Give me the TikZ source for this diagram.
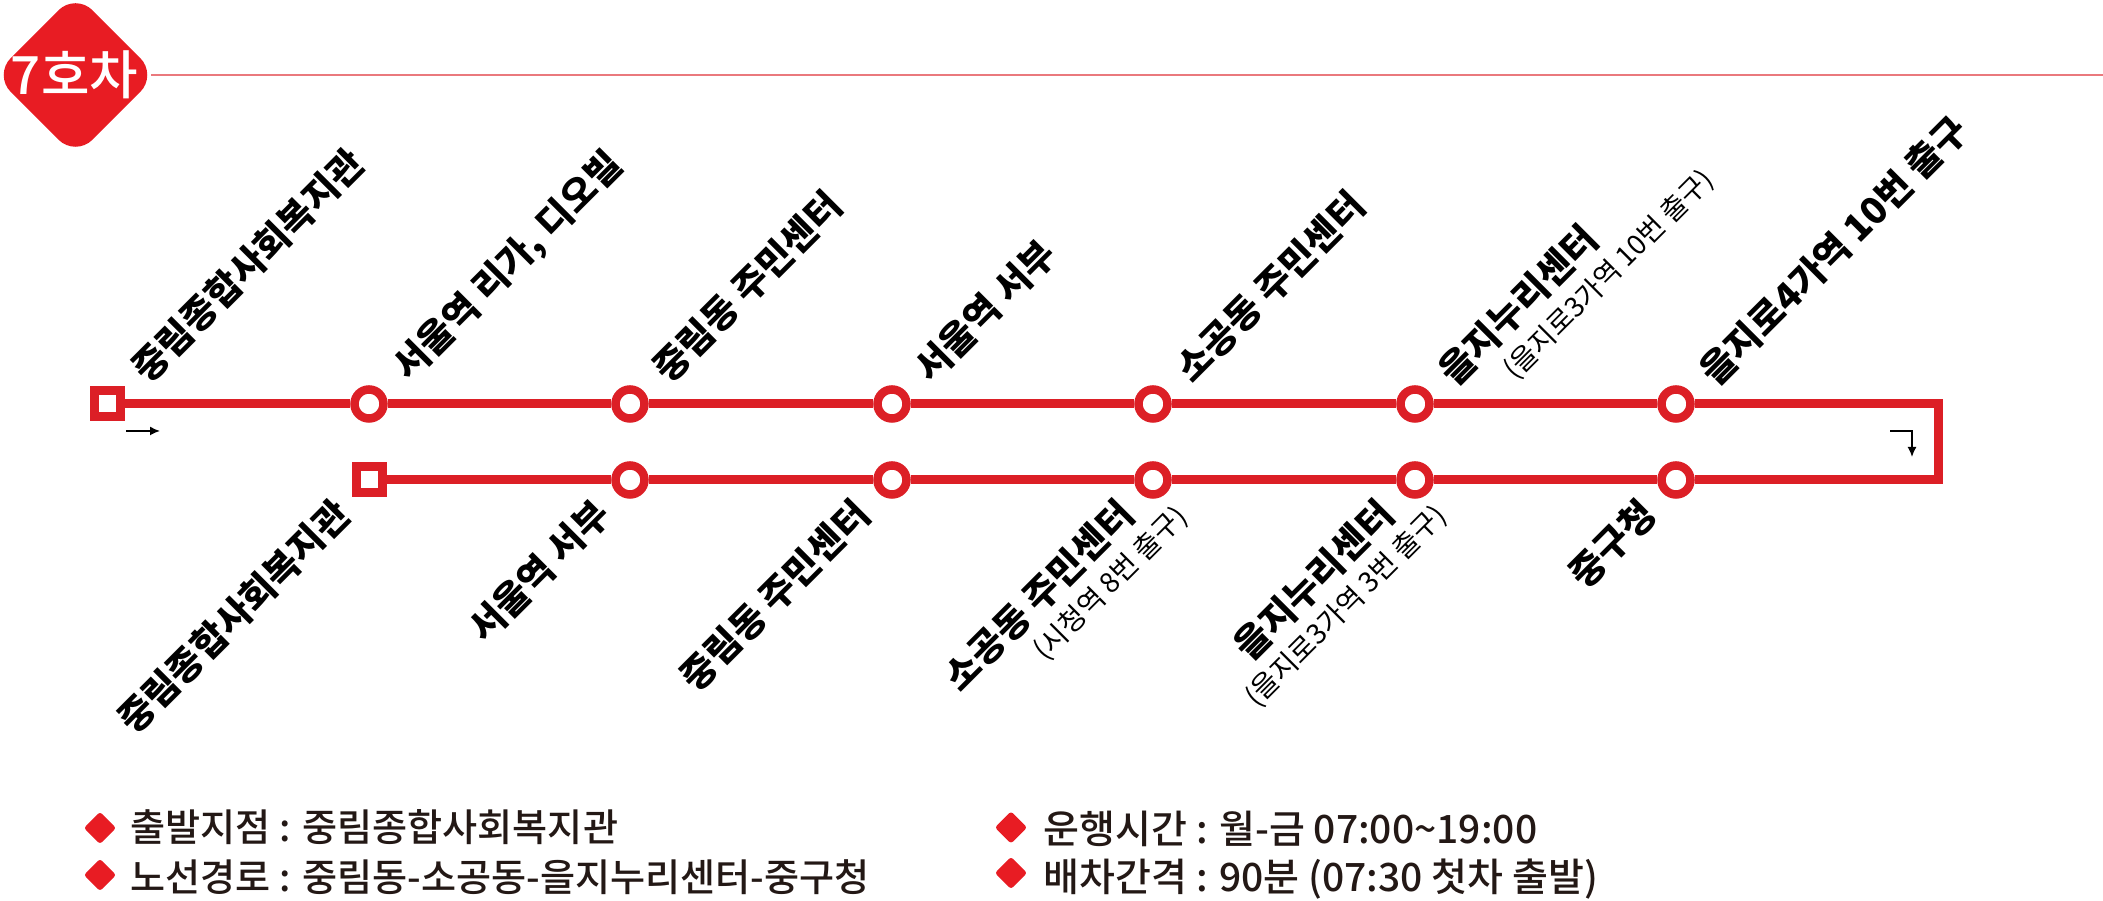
\documentclass[tikz,border=0pt]{standalone}
\usepackage{fontspec}
\setmainfont{Noto Sans CJK KR}
\newfontfamily\krmedium{Noto Sans CJK KR Medium}
\usetikzlibrary{shapes.geometric,arrows.meta}
\definecolor{busred}{HTML}{DC1F26}
\definecolor{badgered}{HTML}{E81C23}
\definecolor{legendink}{HTML}{231815}
\tikzset{
    route/.style={draw=busred,line width=0.09cm},
    stop/.style={circle,draw=busred,fill=white,line width=0.085cm,minimum size=0.29cm,inner sep=0pt},
    terminal/.style={rectangle,draw=busred,fill=white,line width=0.09cm,minimum size=0.26cm,inner sep=0pt},
    uplabel/.style={anchor=west,rotate=45,inner sep=0pt,font=\fontsize{10.6pt}{12pt}\selectfont\bfseries},
    downlabel/.style={anchor=east,rotate=45,inner sep=0pt,font=\fontsize{10.6pt}{12pt}\selectfont\bfseries},
    upnote/.style={anchor=west,rotate=45,inner sep=0pt,font=\fontsize{7.9pt}{9pt}\selectfont},
    downnote/.style={anchor=east,rotate=45,inner sep=0pt,font=\fontsize{8pt}{9pt}\selectfont},
    legendmark/.style={diamond,fill=badgered,rounded corners=0.03cm,minimum size=0.33cm,inner sep=0pt},
    legendtext/.style={anchor=west,inner sep=0pt,text=legendink,font=\fontsize{10.85pt}{12pt}\krmedium},
    legendwide/.style={legendtext,font=\fontsize{11.1pt}{13pt}\krmedium},
}
\begin{document}
\begin{tikzpicture}
    \useasboundingbox (0,0) rectangle (21.03,9.01);

    % The badge
    \node[diamond,fill=badgered,rounded corners=0.24cm,minimum size=1.64cm,inner sep=0pt] (badge) at (0.755,8.26) {};
    \node[text=white,inner sep=0pt,font=\fontsize{15pt}{17pt}\krmedium] (badgetext) at (0.745,8.26) {7호차};
    \coordinate (railend) at (21.03,8.26);
    \draw[draw=busred!60,line width=0.35pt,shorten <=-0.07cm] (badge) -- (railend);

    % The stops
    \node[terminal] (t0) at (1.07,4.97) {};
    \node[stop] (t1) at (3.69,4.97) {};
    \node[stop] (t2) at (6.30,4.97) {};
    \node[stop] (t3) at (8.92,4.97) {};
    \node[stop] (t4) at (11.53,4.97) {};
    \node[stop] (t5) at (14.15,4.97) {};
    \node[stop] (t6) at (16.76,4.97) {};
    \coordinate (turntop) at (19.38,4.97);
    \coordinate (turnbot) at (19.38,4.21);
    \node[stop] (b5) at (16.76,4.21) {};
    \node[stop] (b4) at (14.15,4.21) {};
    \node[stop] (b3) at (11.53,4.21) {};
    \node[stop] (b2) at (8.92,4.21) {};
    \node[stop] (b1) at (6.30,4.21) {};
    \node[terminal] (b0) at (3.69,4.21) {};

    % The route
    \draw[route] (t0) -- (t1);
    \draw[route] (t1) -- (t2);
    \draw[route] (t2) -- (t3);
    \draw[route] (t3) -- (t4);
    \draw[route] (t4) -- (t5);
    \draw[route] (t5) -- (t6);
    \draw[route,line join=miter] (t6) -- (turntop) -- (turnbot) -- (b5);
    \draw[route] (b5) -- (b4);
    \draw[route] (b4) -- (b3);
    \draw[route] (b3) -- (b2);
    \draw[route] (b2) -- (b1);
    \draw[route] (b1) -- (b0);

    % The direction arrows
    \coordinate (goa) at (1.26,4.70);
    \coordinate (gob) at (1.60,4.70);
    \draw[-{Latex[length=0.1cm,width=0.09cm]},line width=0.45pt] (goa) -- (gob);
    \coordinate (backa) at (18.90,4.70);
    \coordinate (backb) at (19.12,4.70);
    \coordinate (backc) at (19.12,4.44);
    \draw[-{Latex[length=0.1cm,width=0.09cm]},line width=0.45pt] (backa) -- (backb) -- (backc);

    % The upper labels
    \node[uplabel] (u0) at (1.38,5.26) {중림종합사회복지관};
    \node[uplabel] (u1) at (4.01,5.26) {서울역 리가, 디오빌};
    \node[uplabel] (u2) at (6.59,5.26) {중림동 주민센터};
    \node[uplabel] (u3) at (9.21,5.26) {서울역 서부};
    \node[uplabel] (u4) at (11.82,5.26) {소공동 주민센터};
    \node[uplabel] (u5) at (14.45,5.23) {을지누리센터};
    \node[upnote] (n5) at (15.09,5.26) {(을지로3가역 10번 출구)};
    \node[uplabel] (u6) at (17.06,5.23) {을지로4가역 10번 출구};

    % The lower labels
    \node[downlabel] (d0) at (3.43,3.94) {중림종합사회복지관};
    \node[downlabel] (d1) at (6.03,3.94) {서울역 서부};
    \node[downlabel] (d2) at (8.63,3.94) {중림동 주민센터};
    \node[downlabel] (d3) at (11.27,3.94) {소공동 주민센터};
    \node[downnote] (m3) at (11.83,3.89) {(시청역 8번 출구)};
    \node[downlabel] (d4) at (13.87,3.94) {을지누리센터};
    \node[downnote] (m4) at (14.42,3.90) {(을지로3가역 3번 출구)};
    \node[downlabel] (d5) at (16.49,3.94) {중구청};

    % The legend
    \node[legendmark] (k1) at (1.00,0.73) {};
    \node[legendtext] (l1) at (1.30,0.735) {출발지점 : 중림종합사회복지관};
    \node[legendmark] (k2) at (1.00,0.26) {};
    \node[legendtext] (l2) at (1.30,0.235) {노선경로 : 중림동-소공동-을지누리센터-중구청};
    \node[legendmark] (k3) at (10.11,0.735) {};
    \node[legendwide] (l3) at (10.43,0.72) {운행시간 : 월-금 07:00\textasciitilde19:00};
    \node[legendmark] (k4) at (10.11,0.28) {};
    \node[legendwide] (l4) at (10.43,0.22) {배차간격 : 90분 (07:30 첫차 출발)};
\end{tikzpicture}
\end{document}
